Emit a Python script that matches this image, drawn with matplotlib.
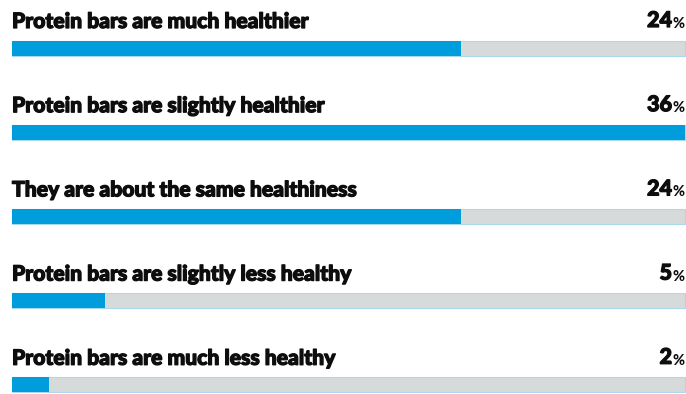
import matplotlib
matplotlib.use('Agg')
import matplotlib.pyplot as plt
import matplotlib.patheffects as pe

# Survey answers and shares (%)
labels = [
    "Protein bars are much healthier",
    "Protein bars are slightly healthier",
    "They are about the same healthiness",
    "Protein bars are slightly less healthy",
    "Protein bars are much less healthy",
]
values = [24, 36, 24, 5, 2]

BLUE = '#009ddc'
GREY = '#d7dada'
EDGE = '#a9d9ec'
INK = '#0d0d0d'

W, H = 686, 394
fig = plt.figure(figsize=(W / 100, H / 100), dpi=100)
ax = fig.add_axes([0, 0, 1, 1])

vmax = max(values)
px = 673 / vmax          # pixels per percentage point
left_px, right_px = 12, 685
ax.set_xlim(-left_px / px, vmax + (W - right_px) / px)
ax.set_ylim(H, 0)
ax.axis('off')

row_gap = 84.2
bar_h = 15
font = dict(family=['Lato', 'DejaVu Sans'], fontweight='black', color=INK)
heavy = [pe.withStroke(linewidth=0.9, foreground=INK)]

for i, (lab, v) in enumerate(zip(labels, values)):
    bar_y = 48 + row_gap * i
    ax.barh(bar_y, vmax, height=bar_h, left=0, color=GREY,
            edgecolor=EDGE, linewidth=0.8)
    ax.barh(bar_y, v, height=bar_h, left=0, color=BLUE, linewidth=0)

    base = bar_y - 20
    ax.text(0, base, lab, ha='left', va='baseline', fontsize=15.2,
            path_effects=heavy, **font)
    pct = ax.text(vmax - 0.05, base, '%', ha='right', va='baseline',
                  fontsize=10.5, **font)
    ax.annotate(str(v), xy=(0, 0), xycoords=pct, ha='right', va='bottom',
                fontsize=15.5, path_effects=heavy, **font)

fig.savefig('out.png', dpi=100)
